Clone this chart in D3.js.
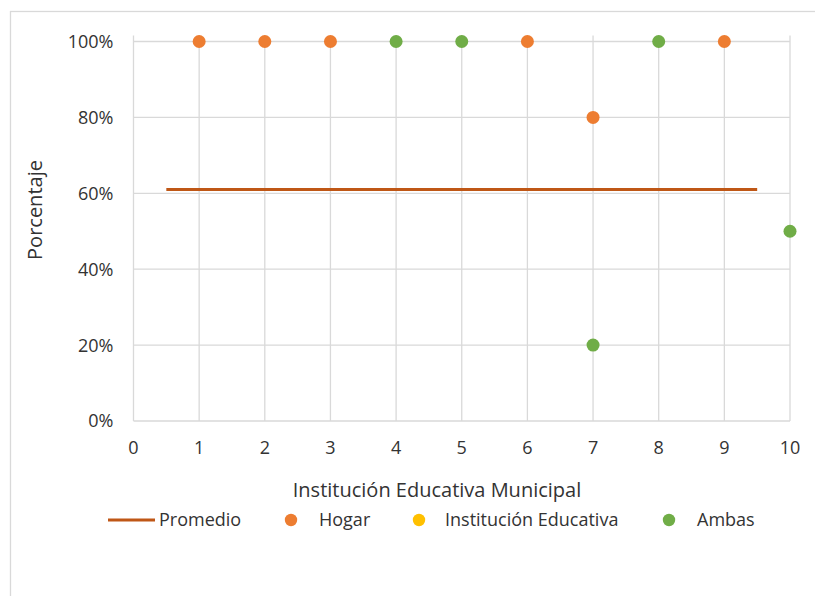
<!DOCTYPE html>
<html>
<head>
<meta charset="utf-8">
<script src="https://cdn.jsdelivr.net/npm/d3@7"></script>
<style>
  body { margin: 0; background: #fff; }
  svg { display: block; font-family: "Open Sans", sans-serif; }
</style>
</head>
<body>
<svg id="chart" width="815" height="596"></svg>
<script>
// Institution ids on the x axis and the share of each answer
const xTicks = [0, 1, 2, 3, 4, 5, 6, 7, 8, 9, 10];
const yTicks = [0, 0.2, 0.4, 0.6, 0.8, 1.0];

const hogarX = [1, 2, 3, 6, 7, 9];
const hogarY = [1.0, 1.0, 1.0, 1.0, 0.8, 1.0];

const institucionX = [];
const institucionY = [];

const ambasX = [4, 5, 7, 8, 10];
const ambasY = [1.0, 1.0, 0.2, 1.0, 0.5];

const promedioX = [0.5, 9.5];
const promedioY = [0.61, 0.61];

const colors = {
  promedio: "#BF5716",
  hogar: "#ED7D31",
  institucion: "#FFC000",
  ambas: "#70AD47",
  grid: "#D9D9D9",
  text: "#333333"
};

const svg = d3.select("#chart");
const W = 815, H = 596;

// outer chart frame
svg.append("rect")
  .attr("x", 10.5).attr("y", 11.5)
  .attr("width", W).attr("height", H)
  .attr("fill", "#fff")
  .attr("stroke", colors.grid)
  .attr("stroke-width", 1.3);

const plot = { left: 133.5, right: 790, top: 41.5, bottom: 421 };

const x = d3.scaleLinear().domain([0, 10]).range([plot.left, plot.right]);
const y = d3.scaleLinear().domain([0, 1]).range([plot.bottom, plot.top]);

const g = svg.append("g");

// vertical gridlines (reach a little above the top value line)
g.selectAll("line.vgrid").data(xTicks).join("line")
  .attr("class", "vgrid")
  .attr("x1", d => x(d)).attr("x2", d => x(d))
  .attr("y1", y(0)).attr("y2", y(1) - 6)
  .attr("stroke", colors.grid).attr("stroke-width", 1.3);

// horizontal gridlines
g.selectAll("line.hgrid").data(yTicks).join("line")
  .attr("class", "hgrid")
  .attr("x1", x(0)).attr("x2", x(10))
  .attr("y1", d => y(d)).attr("y2", d => y(d))
  .attr("stroke", colors.grid).attr("stroke-width", 1.3);

// y tick labels
const fmt = d3.format(".0%");
g.selectAll("text.ytick").data(yTicks).join("text")
  .attr("class", "ytick")
  .attr("x", x(0) - 20)
  .attr("y", d => y(d))
  .attr("dy", "0.36em")
  .attr("text-anchor", "end")
  .attr("font-size", 18)
  .attr("fill", colors.text)
  .text(d => fmt(d));

// x tick labels
g.selectAll("text.xtick").data(xTicks).join("text")
  .attr("class", "xtick")
  .attr("x", d => x(d))
  .attr("y", y(0) + 27)
  .attr("dy", "0.36em")
  .attr("text-anchor", "middle")
  .attr("font-size", 18)
  .attr("fill", colors.text)
  .text(d => d);

// average line
const line = d3.line().x(d => x(d[0])).y(d => y(d[1]));
g.append("path")
  .datum(d3.zip(promedioX, promedioY))
  .attr("d", line)
  .attr("fill", "none")
  .attr("stroke", colors.promedio)
  .attr("stroke-width", 3.2);

// point series
const series = [
  { xs: hogarX, ys: hogarY, color: colors.hogar },
  { xs: institucionX, ys: institucionY, color: colors.institucion },
  { xs: ambasX, ys: ambasY, color: colors.ambas }
];
series.forEach(s => {
  g.append("g").selectAll("circle").data(d3.zip(s.xs, s.ys)).join("circle")
    .attr("cx", d => x(d[0]))
    .attr("cy", d => y(d[1]))
    .attr("r", 6.5)
    .attr("fill", s.color);
});

// axis titles
svg.append("text")
  .attr("x", 437)
  .attr("y", 490)
  .attr("dy", "0.36em")
  .attr("text-anchor", "middle")
  .attr("font-size", 20)
  .attr("fill", colors.text)
  .text("Institución Educativa Municipal");

svg.append("text")
  .attr("transform", "translate(35,210) rotate(-90)")
  .attr("dy", "0.36em")
  .attr("text-anchor", "middle")
  .attr("font-size", 20)
  .attr("fill", colors.text)
  .text("Porcentaje");

// legend
const ly = 520;
const legend = svg.append("g");
legend.append("line")
  .attr("x1", 108).attr("x2", 155)
  .attr("y1", ly).attr("y2", ly)
  .attr("stroke", colors.promedio).attr("stroke-width", 3.2);
legend.append("text")
  .attr("x", 159).attr("y", ly).attr("dy", "0.36em")
  .attr("font-size", 18).attr("fill", colors.text)
  .text("Promedio");

const dotItems = [
  { cx: 291, tx: 319, label: "Hogar", color: colors.hogar },
  { cx: 419, tx: 445, label: "Institución Educativa", color: colors.institucion },
  { cx: 669, tx: 697, label: "Ambas", color: colors.ambas }
];
dotItems.forEach(it => {
  legend.append("circle")
    .attr("cx", it.cx).attr("cy", ly).attr("r", 6.2)
    .attr("fill", it.color);
  legend.append("text")
    .attr("x", it.tx).attr("y", ly).attr("dy", "0.36em")
    .attr("font-size", 18).attr("fill", colors.text)
    .text(it.label);
});
</script>
</body>
</html>
